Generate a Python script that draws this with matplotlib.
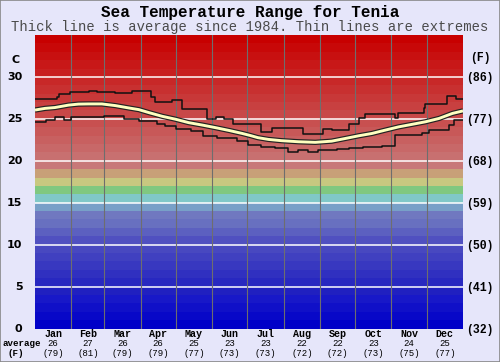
import matplotlib
matplotlib.use("Agg")
import matplotlib.pyplot as plt
import numpy as np

# ---------------- data ----------------
months = ["Jan", "Feb", "Mar", "Apr", "May", "Jun", "Jul", "Aug", "Sep", "Oct", "Nov", "Dec"]
month_avg_c = [26, 27, 26, 26, 25, 23, 23, 22, 22, 23, 24, 25]
month_avg_f = [79, 81, 79, 79, 77, 73, 73, 72, 72, 73, 75, 77]
month_starts = [0, 31, 59, 90, 120, 151, 181, 212, 243, 273, 304, 334, 365]

c_ticks = [0, 5, 10, 15, 20, 25, 30]
f_labels = ["(32)", "(41)", "(50)", "(59)", "(68)", "(77)", "(86)"]

avg_days = [0, 8.6, 17, 28.6, 37, 45.7, 57, 68.6, 80, 88.6, 97, 108.6, 120, 131, 143, 154,
            166, 177, 184, 190, 199, 210, 224.6, 239, 253, 264.6, 276, 287.4, 298.8, 310.3,
            321.7, 333, 344.6, 356, 365]
avg_temp = [26.05, 26.25, 26.35, 26.64, 26.76, 26.78, 26.78, 26.58, 26.3, 26.1, 25.75, 25.3,
            24.95, 24.55, 24.25, 23.95, 23.6, 23.25, 23.0, 22.76, 22.55, 22.4, 22.27, 22.2,
            22.34, 22.66, 22.98, 23.26, 23.66, 24.05, 24.35, 24.65, 25.05, 25.65, 25.95]

max_days = [0, 18.6, 20.6, 30, 45.7, 53, 57, 68.6, 83, 98.6, 102, 117, 125.7, 147, 154, 161,
            168.6, 181.7, 193, 201.7, 228.8, 246, 253, 267.4, 276, 281.7, 307.4, 309.4, 331.7,
            333, 351.7, 358.8]
max_temp = [27.36, 27.64, 27.96, 28.15, 28.36, 28.15, 28.24, 28.04, 28.3, 27.6, 27.04, 27.24,
            26.16, 24.93, 25.17, 24.93, 24.41, 24.33, 23.46, 23.86, 23.14, 23.78, 23.66, 24.33,
            25.05, 25.53, 25.13, 25.65, 26.25, 26.72, 27.75, 27.36]

min_days = [0, 9, 17, 25, 31, 59, 76, 89, 104, 111, 120, 133, 143, 155, 172, 181.7, 193, 204.6,
            216, 224.6, 233, 241.7, 257.4, 267.4, 280, 296, 307.4, 330, 336, 353, 357.4]
min_temp = [24.65, 24.9, 25.2, 24.85, 25.2, 25.35, 24.95, 24.7, 24.4, 24.1, 23.85, 23.5, 23.0,
            22.7, 22.3, 21.9, 21.7, 21.47, 21.1, 21.27, 21.07, 21.27, 21.45, 21.55, 21.7, 21.75,
            23.06, 23.3, 23.66, 24.25, 24.85]

# ---------------- style ----------------
band_colors = ["#0000c8", "#0808c8", "#1010c8", "#1818c8", "#2020c0", "#2828c0", "#3030c0",
               "#3838c0", "#4040c0", "#4848c0", "#5050c0", "#5c60c0", "#6870c0", "#7078c0",
               "#78a0c8", "#80c8c8", "#80c880", "#c8c880", "#c8a078", "#c87878"]
for i in range(20, 35):
    v = int(round(112 * (34 - i) / 14))
    band_colors.append("#c8%02x%02x" % (v, v))

W, H = 500, 362
fig = plt.figure(figsize=(W / 100, H / 100), dpi=100, facecolor="#e6e6fa")
L, R, T, B = 35, 463, 35, 328.5
ax = fig.add_axes([L / W, 1 - B / H, (R - L) / W, (B - T) / H])
ax.set_xlim(0, 365)
ax.set_ylim(0, 35)
ax.axis("off")

for i, col in enumerate(band_colors):
    ax.axhspan(i, i + 1, color=col, lw=0, zorder=0)
for t in c_ticks[1:]:
    ax.axhline(t, color="white", lw=1.1, zorder=1)
for d in month_starts[1:-1]:
    ax.axvline(d, color="#6e6e6e", lw=0.8, zorder=1)

ax.step(max_days + [365], max_temp + [max_temp[-1]], where="post", color="#111111", lw=1.1, zorder=3)
ax.step(min_days + [365], min_temp + [min_temp[-1]], where="post", color="#111111", lw=1.1, zorder=3)
ax.plot(avg_days, avg_temp, color="#222222", lw=3.8, zorder=4, solid_capstyle="butt")
ax.plot(avg_days, avg_temp, color="#ffffc0", lw=2.1, zorder=5, solid_capstyle="butt")

mono = "Liberation Mono"
# Left / right labels
for t, fl in zip(c_ticks, f_labels):
    fig.text(22.5 / W, 1 - (B - t * (B - T) / 35) / H, str(t), ha="right", va="center",
             fontsize=8, fontweight="bold", family="DejaVu Sans")
    fig.text(466 / W, 1 - (B - t * (B - T) / 35 + 1) / H, fl, ha="left", va="center",
             fontsize=8.3, fontweight="bold", family=mono)
fig.text(16 / W, 1 - 60 / H, "C", ha="center", va="center", fontsize=8, fontweight="bold",
         family="DejaVu Sans")
fig.text(480 / W, 1 - 58 / H, "(F)", ha="center", va="center", fontsize=8.3, fontweight="bold",
         family=mono)

# Bottom labels
for i, m in enumerate(months):
    xc = (month_starts[i] + month_starts[i + 1]) / 2
    xf = (L + xc / 365 * (R - L)) / W
    fig.text(xf, 1 - 334 / H, m, ha="center", va="center", fontsize=7.2, fontweight="bold", family=mono)
    fig.text(xf, 1 - 343.5 / H, str(month_avg_c[i]), ha="center", va="center", fontsize=6.5, family=mono)
    fig.text(xf, 1 - 353 / H, "(%d)" % month_avg_f[i], ha="center", va="center", fontsize=6.5, family=mono)
fig.text(22 / W, 1 - 343.5 / H, "average", ha="center", va="center", fontsize=6.6, fontweight="bold", family=mono)
fig.text(16 / W, 1 - 353 / H, "(F)", ha="center", va="center", fontsize=6.6, fontweight="bold", family=mono)

# Titles
fig.text(0.5, 1 - 13 / H, "Sea Temperature Range for Tenia", ha="center", va="center",
         fontsize=11.5, fontweight="bold", family=mono)
fig.text(0.5, 1 - 27.5 / H, "Thick line is average since 1984. Thin lines are extremes",
         ha="center", va="center", fontsize=10, color="#4a4a4a", family=mono)

# border
fig.patches.append(plt.Rectangle((0, 0), 1, 1, transform=fig.transFigure, fill=False,
                                 edgecolor="#888888", lw=1.2))

fig.savefig("out.png", dpi=100, facecolor=fig.get_facecolor())
